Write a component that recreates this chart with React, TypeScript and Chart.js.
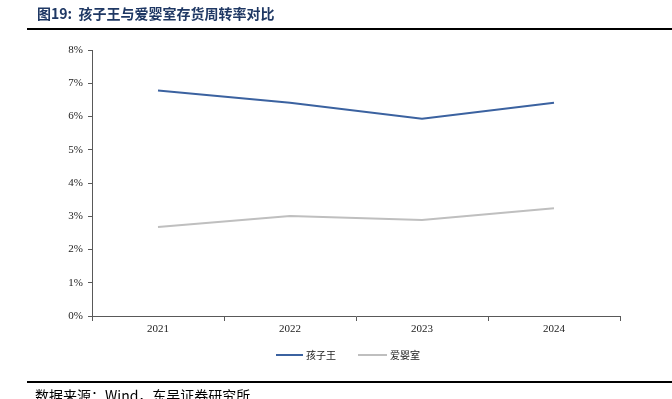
import React, { useEffect, useRef } from "react";
import { Chart, registerables } from "chart.js";

Chart.register(...registerables);

const years = ["2021", "2022", "2023", "2024"];
const kidsWang = [6.78, 6.41, 5.93, 6.41];
const aiYingShi = [2.68, 3.01, 2.89, 3.24];
const seriesNames = ["孩子王", "爱婴室"];
const title = "图19:  孩子王与爱婴室存货周转率对比";
const source = "数据来源：Wind，东吴证券研究所";

const BLUE = "#3b62a0";
const GRAY = "#bfbfbf";

export default function App() {
  const ref = useRef<HTMLCanvasElement | null>(null);
  useEffect(() => {
    if (!ref.current) return;
    const chart = new Chart(ref.current, {
      type: "line",
      data: {
        labels: years,
        datasets: [
          { label: seriesNames[0], data: kidsWang, borderColor: BLUE, backgroundColor: BLUE, borderWidth: 2, pointRadius: 0, tension: 0 },
          { label: seriesNames[1], data: aiYingShi, borderColor: GRAY, backgroundColor: GRAY, borderWidth: 2, pointRadius: 0, tension: 0 },
        ],
      },
      options: {
        animation: false,
        responsive: false,
        maintainAspectRatio: false,
        layout: { padding: { left: 0, right: 52, top: 50, bottom: 63 } },
        plugins: { legend: { display: false }, tooltip: { enabled: false }, title: { display: false } },
        scales: {
          x: {
            offset: true,
            grid: { offset: true, drawOnChartArea: false, drawTicks: true, tickLength: 5, color: "#595959" },
            border: { display: true, color: "#595959", width: 1 },
            ticks: { color: "#222", font: { family: "Liberation Serif", size: 11 }, padding: 2, maxRotation: 0 },
            afterFit: (s: any) => { s.height = 20; },
          },
          y: {
            min: 0,
            max: 8,
            grid: { drawOnChartArea: false, drawTicks: true, tickLength: 4, color: "#595959" },
            border: { display: true, color: "#595959", width: 1 },
            ticks: { stepSize: 1, color: "#222", font: { family: "Liberation Serif", size: 11 }, padding: 5, callback: (v: any) => v + "%" },
            afterFit: (s: any) => { s.width = 92; },
          },
        },
      },
    });
    return () => chart.destroy();
  }, []);

  return (
    <div style={{ position: "fixed", left: 0, top: 0, width: 672, height: 399, background: "#fff", overflow: "hidden" }}>
      <canvas ref={ref} width={672} height={399} style={{ position: "absolute", left: 0, top: 0, width: 672, height: 399 }} />
      <div style={{ position: "absolute", left: 37, top: 3, fontFamily: "'Noto Sans CJK SC'", fontWeight: 700, fontSize: 14, color: "#1f3864", whiteSpace: "pre", lineHeight: "20px" }}>{title}</div>
      <div style={{ position: "absolute", left: 27, top: 28, width: 645, height: 2, background: "#000" }} />
      <div style={{ position: "absolute", left: 27, top: 381, width: 645, height: 1.5, background: "#000" }} />
      <div style={{ position: "absolute", left: 35, top: 385, fontFamily: "'Noto Sans CJK SC'", fontSize: 14, color: "#000", whiteSpace: "pre", lineHeight: "20px" }}>{source}</div>
      <div style={{ position: "absolute", left: 276, top: 354, width: 27, height: 2, background: BLUE }} />
      <div style={{ position: "absolute", left: 306, top: 347, fontFamily: "'Noto Sans CJK SC'", fontSize: 10, color: "#222", lineHeight: "16px" }}>{seriesNames[0]}</div>
      <div style={{ position: "absolute", left: 358, top: 354, width: 29, height: 2, background: GRAY }} />
      <div style={{ position: "absolute", left: 390, top: 347, fontFamily: "'Noto Sans CJK SC'", fontSize: 10, color: "#222", lineHeight: "16px" }}>{seriesNames[1]}</div>
    </div>
  );
}
